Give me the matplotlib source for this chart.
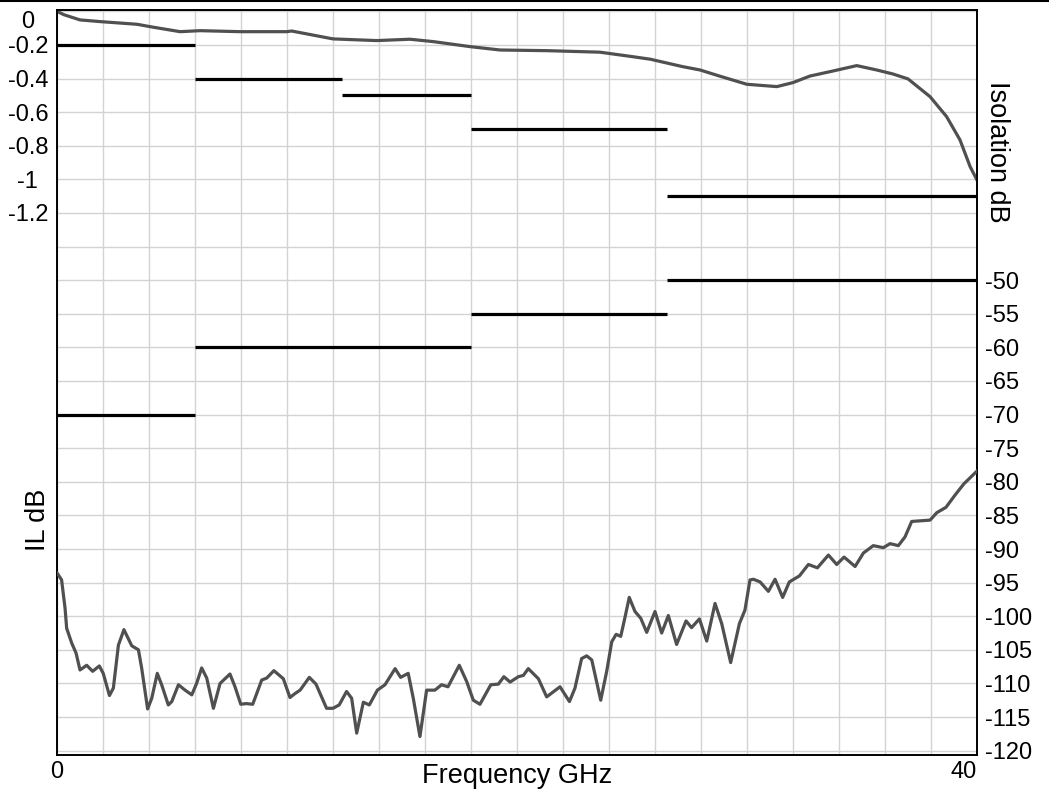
import matplotlib
matplotlib.use('Agg')
import matplotlib.pyplot as plt
from matplotlib.lines import Line2D

plt.rcParams['font.family'] = ['Liberation Sans', 'DejaVu Sans']

# Insertion loss curve (left axis, dB)
il_freq = [0, 0.3, 1.0, 1.87, 3.48, 4.04, 5.35, 6.22, 7.96, 10.0, 10.2, 12.0,
           13.9, 15.35, 16.35, 17.96, 19.26, 21.3, 23.6, 25.04, 25.8, 27.2,
           27.96, 28.8, 29.99, 31.3, 32.0, 32.74, 33.74, 34.77, 35.64, 36.35,
           37.0, 37.96, 38.68, 39.26, 39.7, 40.0]
il_db = [0, -0.02, -0.051, -0.061, -0.077, -0.091, -0.121, -0.115, -0.121, -0.121,
         -0.117, -0.164, -0.174, -0.166, -0.180, -0.210, -0.230, -0.234, -0.243,
         -0.270, -0.285, -0.329, -0.349, -0.385, -0.434, -0.448, -0.424, -0.385,
         -0.355, -0.323, -0.349, -0.373, -0.402, -0.508, -0.627, -0.765, -0.924, -1.004]

# Isolation curve (right axis, dB)
iso_freq = [0.01, 0.2, 0.35, 0.42, 0.64, 0.83, 1.0, 1.29, 1.55, 1.84, 2.01, 2.28, 2.45,
            2.67, 2.91, 3.25, 3.54, 3.68, 3.94, 4.12, 4.36, 4.55, 4.84, 4.99, 5.28,
            5.57, 5.86, 6.07, 6.29, 6.51, 6.8, 7.09, 7.52, 7.74, 7.99, 8.22, 8.51,
            8.9, 9.12, 9.43, 9.84, 10.13, 10.35, 10.57, 10.97, 11.26, 11.72, 12.0,
            12.27, 12.59, 12.81, 13.03, 13.32, 13.58, 13.93, 14.26, 14.7, 14.94,
            15.27, 15.49, 15.78, 16.07, 16.43, 16.72, 17.0, 17.49, 17.81, 18.1,
            18.39, 18.86, 19.19, 19.43, 19.7, 20.06, 20.28, 20.49, 20.93, 21.29,
            21.87, 22.28, 22.52, 22.81, 23.03, 23.25, 23.64, 23.9, 24.12, 24.31,
            24.51, 24.7, 24.88, 25.13, 25.38, 25.64, 26.0, 26.29, 26.58, 26.94,
            27.35, 27.59, 27.93, 28.25, 28.61, 28.9, 29.29, 29.67, 29.91, 30.13,
            30.28, 30.57, 30.93, 31.22, 31.55, 31.84, 32.28, 32.67, 33.06, 33.54,
            33.9, 34.22, 34.7, 35.06, 35.49, 35.93, 36.22, 36.58, 36.87, 37.16,
            37.96, 38.25, 38.65, 39.04, 39.43, 40.0]
iso_db = [-93.6, -94.6, -98.8, -101.8, -104.0, -105.5, -108.0, -107.3, -108.2, -107.4,
          -108.5, -111.8, -110.7, -104.3, -102.0, -104.4, -105.0, -107.7, -113.8,
          -112.2, -108.5, -110.2, -113.2, -112.7, -110.2, -111.0, -111.7, -110.0,
          -107.7, -109.2, -113.7, -110.0, -108.6, -110.5, -113.1, -113.0, -113.1,
          -109.5, -109.2, -108.1, -109.3, -112.1, -111.5, -111.0, -109.1, -110.1,
          -113.7, -113.7, -113.2, -111.2, -112.2, -117.4, -112.8, -113.2, -111.0,
          -110.2, -107.8, -109.1, -108.5, -112.2, -117.9, -111.0, -111.0, -110.2,
          -110.5, -107.3, -109.7, -112.5, -113.1, -110.2, -110.1, -109.0, -109.8,
          -109.0, -108.8, -107.8, -109.3, -112.0, -110.5, -112.7, -110.7, -106.3,
          -105.9, -106.5, -112.5, -108.2, -103.8, -102.7, -103.0, -100.1, -97.2,
          -99.3, -100.3, -102.4, -99.3, -102.5, -99.9, -104.2, -100.7, -101.7,
          -100.4, -103.7, -98.1, -101.1, -106.9, -101.1, -99.1, -94.6, -94.5,
          -94.9, -96.3, -94.5, -97.2, -94.9, -94.0, -92.3, -92.8, -90.9, -92.3,
          -91.2, -92.6, -90.6, -89.5, -89.8, -89.2, -89.5, -88.2, -85.9, -85.7,
          -84.6, -83.8, -82.0, -80.3, -78.4]

# Spec limit lines
il_spec_start = [0, 6, 12.4, 18, 26.5]
il_spec_end = [6, 12.4, 18, 26.5, 40]
il_spec_db = [-0.2, -0.4, -0.5, -0.7, -1.1]

iso_spec_start = [0, 6, 18, 26.5]
iso_spec_end = [6, 18, 26.5, 40]
iso_spec_db = [-70, -60, -55, -50]

il_ticks = [0, -0.2, -0.4, -0.6, -0.8, -1, -1.2]
il_tick_labels = ['0', '-0.2', '-0.4', '-0.6', '-0.8', '-1', '-1.2']
iso_ticks = [-50, -55, -60, -65, -70, -75, -80, -85, -90, -95, -100, -105, -110, -115, -120]

fig = plt.figure(figsize=(10.49, 7.91), dpi=100)
ax = fig.add_axes([57 / 1049, 1 - 755 / 791, 920 / 1049, 745 / 791])
ax2 = ax.twinx()

# grid every 2 GHz and every 0.2 dB (== 5 dB on the right axis)
grid_x = list(range(0, 41, 2))
grid_y = [-0.2 * k for k in range(23)]
for gx in grid_x:
    ax.axvline(gx, color='#d3d3d3', lw=1.0, zorder=0)
for gy in grid_y:
    ax.axhline(gy, color='#d3d3d3', lw=1.0, zorder=0)

ax.plot(il_freq, il_db, color='#505050', lw=2.3, zorder=3)
ax.hlines(il_spec_db, il_spec_start, il_spec_end, color='black', lw=2.3, zorder=4)
ax2.plot(iso_freq, iso_db, color='#505050', lw=2.3, zorder=3)
ax2.hlines(iso_spec_db, iso_spec_start, iso_spec_end, color='black', lw=2.3, zorder=4)

ax.set_xlim(0, 40)
ax.set_ylim(-4.426, 0.008)
ax2.set_ylim(-120.65, -9.8)

ax.set_xticks([0, 40], ['0', '40'])
ax.get_xticklabels()[1].set_ha('right')
ax.set_yticks(il_ticks, il_tick_labels)
ax2.set_yticks(iso_ticks, [str(t) for t in iso_ticks])

ax.tick_params(axis='x', length=0, labelsize=17, pad=4)
ax.tick_params(axis='y', length=0, labelsize=17, pad=21)
for lab in ax.get_yticklabels():
    lab.set_ha('center')
ax.get_yticklabels()[0].set_va('top')
ax2.tick_params(axis='y', length=0, labelsize=17, pad=6)

for a in (ax, ax2):
    for s in a.spines.values():
        s.set_linewidth(1.2)
        s.set_color('black')

ax.set_xlabel('Frequency GHz', fontsize=19.5, labelpad=-14)
ax.set_ylabel('IL dB', fontsize=19.5)
ax.yaxis.set_label_coords(-0.006, 0.315)
ax2.set_ylabel('Isolation dB', fontsize=19.5, rotation=270)
ax2.yaxis.set_label_coords(1.036, 0.81)

fig.add_artist(Line2D([0, 1], [1 - 1.0 / 791, 1 - 1.0 / 791], color='black', lw=1.5))

fig.savefig('out.png', dpi=100)
